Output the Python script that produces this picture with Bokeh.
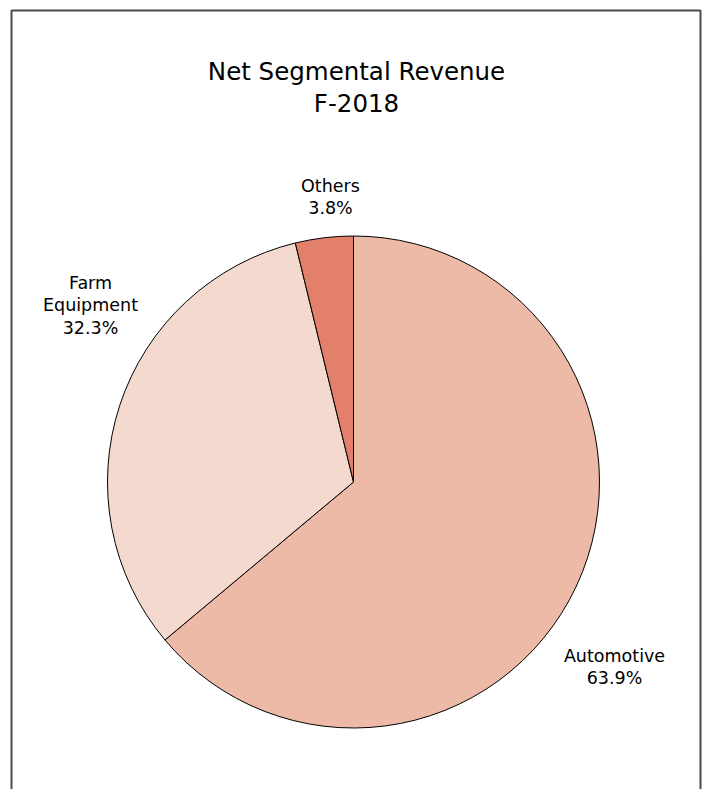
import numpy as np
from bokeh.plotting import figure
from bokeh.models import Range1d, ColumnDataSource
from bokeh.embed import file_html
from bokeh.resources import INLINE
from bokeh.core.properties import value

# ---- data ----
categories = ["Automotive", "Farm Equipment", "Others"]
shares = [63.9, 32.3, 3.8]
label_lines = [["Automotive"], ["Farm", "Equipment"], ["Others"]]
colors = ["#EDBAA8", "#F4D9CF", "#E2806C"]
title_lines = ["Net Segmental Revenue", "F-2018"]

# ---- layout (page pixel coords converted to data units) ----
W, H = 709, 789
FONT = "DejaVu Sans"


def px(x):
    return x


def py(y):
    return H - y


cx, cy = px(353), py(481.5)
R = 246
label_anchor = {"Automotive": (614, 655), "Farm Equipment": (90, 282), "Others": (330, 185)}
line_gap = 22.5

p = figure(width=W, height=H, output_backend="svg", toolbar_location=None,
           x_range=Range1d(0, W), y_range=Range1d(0, H), min_border=0)
p.axis.visible = False
p.grid.visible = False
p.outline_line_color = None
p.background_fill_color = "white"

# frame
p.line(x=[px(11), px(11), px(700), px(700)], y=[-20, py(10), py(10), -20],
       line_color="#4a4a4a", line_width=2)

# wedges
vals = np.array(shares, dtype=float)
frac = vals / vals.sum()
cum = np.concatenate([[0], np.cumsum(frac)])
start = np.pi / 2 - 2 * np.pi * cum[:-1]
end = np.pi / 2 - 2 * np.pi * cum[1:]
src = ColumnDataSource(dict(cat=categories, start=start, end=end, color=colors))
p.wedge(x=cx, y=cy, radius=R, start_angle="start", end_angle="end", direction="clock",
        fill_color="color", line_color="black", line_width=1, source=src)

# labels
lx, ly, lt = [], [], []
for cat, v, lines in zip(categories, shares, label_lines):
    ax, ay = label_anchor[cat]
    for i, t in enumerate(lines + [f"{v:.1f}%"]):
        lx.append(px(ax))
        ly.append(py(ay + i * line_gap))
        lt.append(t)
p.text(x=lx, y=ly, text=lt, text_align="center", text_baseline="alphabetic",
       text_font=value(FONT), text_font_size="17.5px", text_color="black")

# title
p.text(x=[px(356)] * 2, y=[py(71), py(103)], text=title_lines, text_align="center",
       text_baseline="alphabetic", text_font=value(FONT), text_font_size="24.5px",
       text_color="black")

open("out.html", "w").write(file_html(p, INLINE))
